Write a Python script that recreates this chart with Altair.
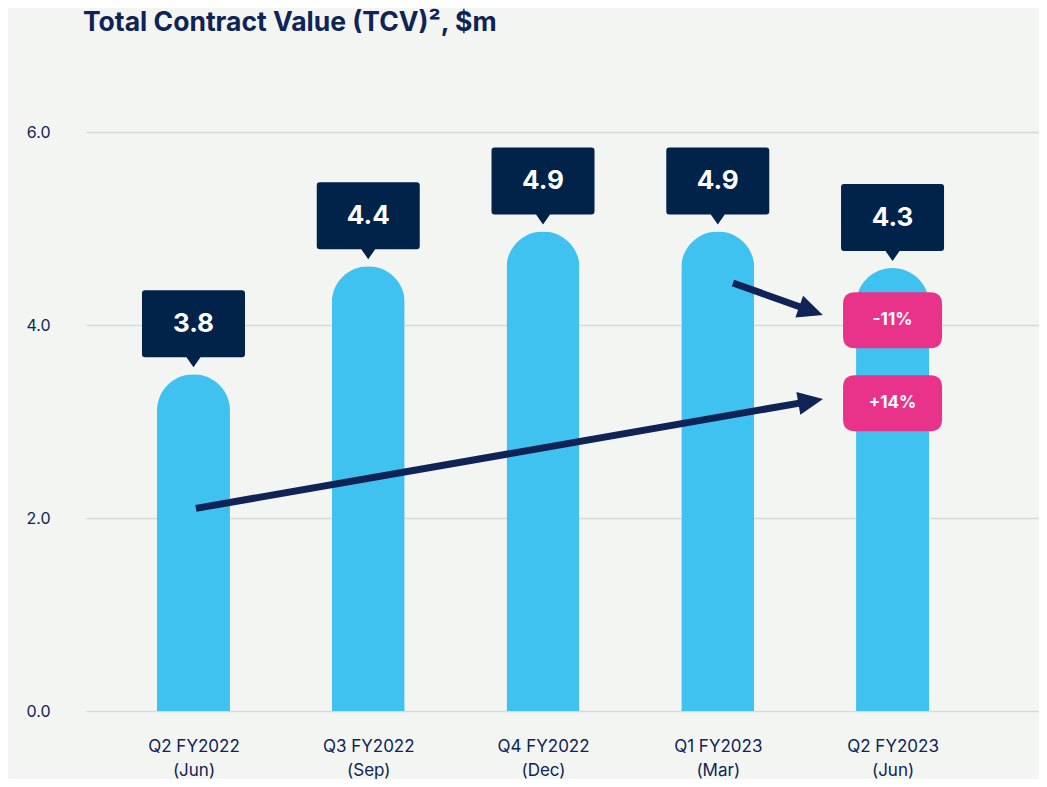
import math
import altair as alt
import pandas as pd

# ---------------- data ----------------
periods = ["Q2 FY2022", "Q3 FY2022", "Q4 FY2022", "Q1 FY2023", "Q2 FY2023"]
months = ["(Jun)", "(Sep)", "(Dec)", "(Mar)", "(Jun)"]
tcv_labels = [3.8, 4.4, 4.9, 4.9, 4.3]
bar_heights = [3.49, 4.61, 4.97, 4.97, 4.59]  # drawn bar tops (rounded caps)

badge_text = ["-11%", "+14%"]
badge_x = [4, 4]
badge_y = [4.05, 3.19]

arrow_x1 = [3.087, 0.014]
arrow_y1 = [4.435, 2.10]
arrow_x2 = [3.601, 3.602]
arrow_y2 = [4.104, 3.233]

title_text = ["Total Contract Value (TCV)², $m"]

# ---------------- layout / style ----------------
W, H = 953, 579
XDOM = [-0.615, 4.838]
YDOM = [0, 6]
PX_X = W / (XDOM[1] - XDOM[0])
PX_Y = H / (YDOM[1] - YDOM[0])

BG = "#F3F5F2"
BLUE = "#40C2F0"
NAVY_BOX = "#01234A"
NAVY = "#0F2357"
PINK = "#E9338B"
FONT = "Inter"


def fmt(v):
    return f"{v:.4f}".rstrip("0").rstrip(".")


def to_path(cmds, u):
    out = []
    for c in cmds:
        op = c[0]
        nums = [fmt(n / u) for n in c[1:]]
        out.append(op + ",".join(nums))
    return " ".join(out) + " Z"


# label box with pointer (px, origin = bar top)
BW2, BT, BB, BR, TIP, PW = 51.5, -84.0, -17.0, 3.0, -7.0, 7.0
box_cmds = [
    ("M", -BW2 + BR, BT), ("L", BW2 - BR, BT), ("Q", BW2, BT, BW2, BT + BR),
    ("L", BW2, BB - BR), ("Q", BW2, BB, BW2 - BR, BB), ("L", PW, BB),
    ("L", 0, TIP), ("L", -PW, BB), ("L", -BW2 + BR, BB),
    ("Q", -BW2, BB, -BW2, BB - BR), ("L", -BW2, BT + BR),
    ("Q", -BW2, BT, -BW2 + BR, BT),
]
BOX_U = BW2
box_path = to_path(box_cmds, BOX_U)
box_size = (2 * BOX_U) ** 2

# badge rounded rect (px, centred)
GW2, GH2, GR = 49.5, 28.0, 12.0
badge_cmds = [
    ("M", -GW2 + GR, -GH2), ("L", GW2 - GR, -GH2), ("Q", GW2, -GH2, GW2, -GH2 + GR),
    ("L", GW2, GH2 - GR), ("Q", GW2, GH2, GW2 - GR, GH2), ("L", -GW2 + GR, GH2),
    ("Q", -GW2, GH2, -GW2, GH2 - GR), ("L", -GW2, -GH2 + GR),
    ("Q", -GW2, -GH2, -GW2 + GR, -GH2),
]
badge_path = to_path(badge_cmds, GW2)
badge_size = (2 * GW2) ** 2

# arrow head (tip at origin, pointing right)
HL, HB = 25.0, 11.5
HEAD_U = 12.5
head_path = to_path([("M", 0, 0), ("L", -HL, -HB), ("L", -HL, HB)], HEAD_U)
head_size = (2 * HEAD_U) ** 2

# ---------------- tables ----------------
bars = pd.DataFrame({
    "idx": list(range(len(periods))),
    "period": periods,
    "height": bar_heights,
    "label": [f"{v:.1f}" for v in tcv_labels],
})

rows = []
for x1, y1, x2, y2 in zip(arrow_x1, arrow_y1, arrow_x2, arrow_y2):
    dxs = (x2 - x1) * PX_X
    dys = -(y2 - y1) * PX_Y
    n = math.hypot(dxs, dys)
    ux, uy = dxs / n, dys / n
    ex = x2 - 12 * ux / PX_X
    ey = y2 + 12 * uy / PX_Y
    ang = math.degrees(math.atan2(uy, ux)) % 360
    rows.append({"x1": x1, "y1": y1, "ex": ex, "ey": ey, "tx": x2, "ty": y2, "angle": ang})
arrows = pd.DataFrame(rows)

badges = pd.DataFrame({"x": badge_x, "y": badge_y, "text": badge_text})
titles = pd.DataFrame({"t": title_text})

label_expr = "[" + ",".join(f"['{p}','{m}']" for p, m in zip(periods, months)) + "][datum.value]"

xscale = alt.Scale(domain=XDOM, nice=False, zero=False, padding=0)
yscale = alt.Scale(domain=YDOM, nice=False, padding=0)

x_axis = alt.Axis(values=list(range(len(periods))), labelExpr=label_expr, title=None,
                  grid=False, ticks=False, domain=False, labelFont=FONT, labelFontSize=17,
                  labelColor=NAVY, labelLineHeight=24, labelPadding=27, labelOverlap=False,
                  labelFlush=False)
y_axis = alt.Axis(values=[0, 2, 4, 6], format=".1f", title=None, grid=True,
                  gridColor="#D8DAD7", gridWidth=1.5, ticks=False, domain=False,
                  labelFont=FONT, labelFontSize=16, labelColor=NAVY, labelPadding=36)

base = alt.Chart(bars)

bar_layer = base.mark_bar(width=73, cornerRadiusTopLeft=36.5, cornerRadiusTopRight=36.5,
                          color=BLUE).encode(
    x=alt.X("idx:Q", scale=xscale, axis=x_axis),
    y=alt.Y("height:Q", scale=yscale, axis=y_axis),
)

box_layer = base.mark_point(shape=box_path, size=box_size, filled=True, color=NAVY_BOX,
                            opacity=1, strokeWidth=0).encode(
    x=alt.X("idx:Q", scale=xscale), y=alt.Y("height:Q", scale=yscale))

box_text = base.mark_text(font=FONT, fontSize=26, fontWeight="bold", color="white",
                          baseline="middle", dy=-50).encode(
    x=alt.X("idx:Q", scale=xscale), y=alt.Y("height:Q", scale=yscale), text="label:N")

arrow_rule = alt.Chart(arrows).mark_rule(strokeWidth=7, color=NAVY).encode(
    x=alt.X("x1:Q", scale=xscale), y=alt.Y("y1:Q", scale=yscale),
    x2="ex:Q", y2="ey:Q")

arrow_head = alt.Chart(arrows).mark_point(shape=head_path, size=head_size, filled=True,
                                          color=NAVY, opacity=1, strokeWidth=0).encode(
    x=alt.X("tx:Q", scale=xscale), y=alt.Y("ty:Q", scale=yscale),
    angle=alt.Angle("angle:Q", scale=None))

badge_layer = alt.Chart(badges).mark_point(shape=badge_path, size=badge_size, filled=True,
                                           color=PINK, opacity=1, strokeWidth=0).encode(
    x=alt.X("x:Q", scale=xscale), y=alt.Y("y:Q", scale=yscale))

badge_txt = alt.Chart(badges).mark_text(font=FONT, fontSize=17, fontWeight="bold",
                                        color="white", baseline="middle").encode(
    x=alt.X("x:Q", scale=xscale), y=alt.Y("y:Q", scale=yscale), text="text:N")

title_layer = alt.Chart(titles).mark_text(font=FONT, fontSize=26.5, fontWeight="bold",
                                          color=NAVY, align="left",
                                          baseline="alphabetic").encode(
    x=alt.value(-3), y=alt.value(-101), text="t:N")

chart = alt.layer(bar_layer, arrow_rule, arrow_head, badge_layer, badge_txt,
                  box_layer, box_text, title_layer).properties(
    width=W, height=H,
    autosize=alt.AutoSizeParams(type="none"),
    padding={"left": 78, "top": 124, "right": 0, "bottom": 68},
    background=BG,
).configure_view(stroke="transparent")

chart.save("out.html", embed_options={"renderer": "svg", "actions": False})
